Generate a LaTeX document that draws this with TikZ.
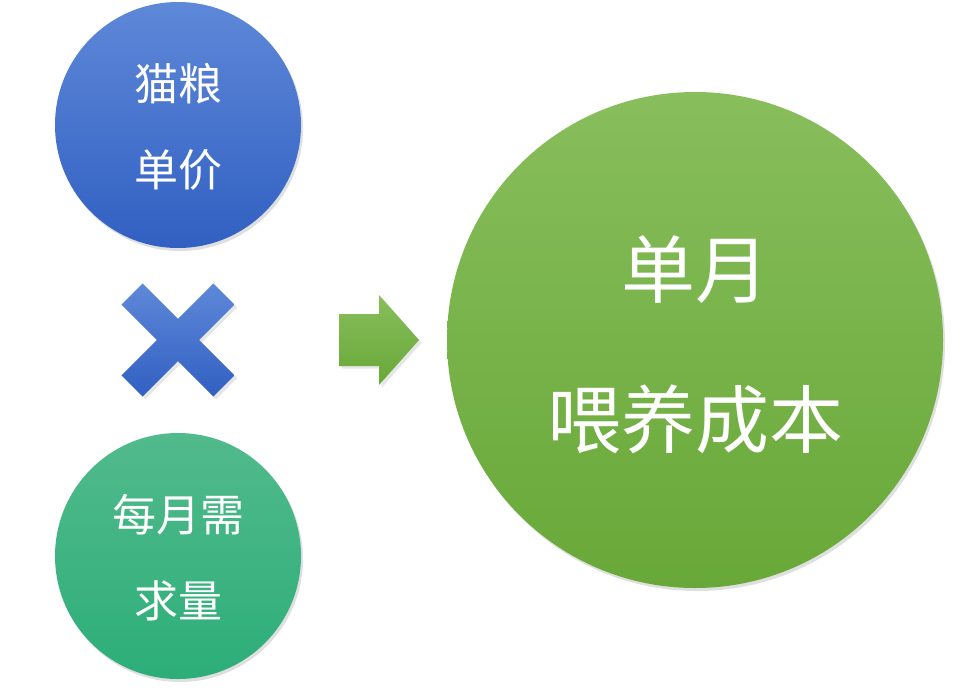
\documentclass[tikz,border=0pt]{standalone}
\usepackage{fontspec}
\setmainfont{Noto Sans CJK SC}
\usetikzlibrary{shadows}
\definecolor{bluetop}{HTML}{5E88D8}
\definecolor{bluebot}{HTML}{3160C2}
\definecolor{greentop}{HTML}{88BE5C}
\definecolor{greenbot}{HTML}{68A838}
\definecolor{tealtop}{HTML}{52BA8C}
\definecolor{tealbot}{HTML}{2CAE78}
\tikzset{
  circ/.style={circle, draw=none, minimum size=#1, inner sep=0pt, drop shadow={opacity=0.25, shadow xshift=2pt, shadow yshift=-3pt}},
  lbl/.style={text=white, align=center},
}
\begin{document}
\begin{tikzpicture}[x=1pt,y=-1pt]
\useasboundingbox (0,0) rectangle (964,691);
\node[circ=246, top color=bluetop, bottom color=bluebot] (price) at (178,125) {};
\node[lbl, font=\fontsize{44}{80}\selectfont] at (178,127) {猫粮\\[6pt]单价};
\node[circ=246, top color=tealtop, bottom color=tealbot] (need) at (178,556) {};
\node[lbl, font=\fontsize{44}{80}\selectfont] at (178,558) {每月需\\[6pt]求量};
\node[circ=496, top color=greentop, bottom color=greenbot] (cost) at (695,340) {};
\node[lbl, font=\fontsize{74}{110}\selectfont] at (695,345) {单月\\[40pt]喂养成本};
% multiply sign
\node[draw=none, top color=bluetop, bottom color=bluebot, minimum width=130pt, minimum height=30pt, rotate=45, inner sep=0pt, drop shadow={opacity=0.2}] (m1) at (178,340) {};
\node[draw=none, top color=bluetop, bottom color=bluebot, minimum width=130pt, minimum height=30pt, rotate=-45, inner sep=0pt, drop shadow={opacity=0.2}] (m2) at (178,340) {};
% arrow
\coordinate (arr) at (379,340);
\shade[top color=greentop, bottom color=greenbot, drop shadow={opacity=0.2}]
  ([xshift=-40pt,yshift=-26pt]arr) -- ([yshift=-26pt]arr) -- ([yshift=-45pt]arr) -- ([xshift=40pt]arr)
  -- ([yshift=45pt]arr) -- ([yshift=26pt]arr) -- ([xshift=-40pt,yshift=26pt]arr) -- cycle;
\end{tikzpicture}
\end{document}
